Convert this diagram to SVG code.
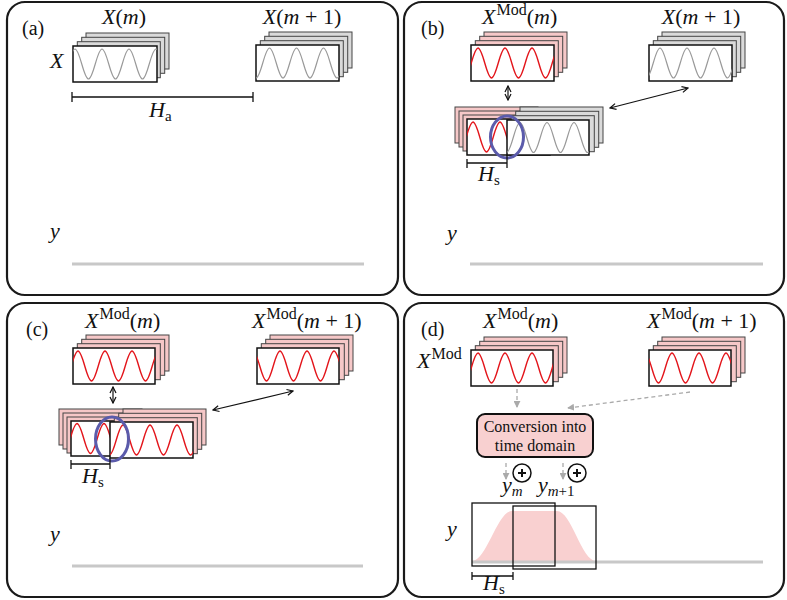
<svg xmlns="http://www.w3.org/2000/svg" xmlns:xlink="http://www.w3.org/1999/xlink" width="787" height="600" viewBox="0 0 787 600">
<style>
.panel{fill:none;stroke:#1a1a1a;stroke-width:2.2}
.front{fill:#fff;stroke:#111;stroke-width:1.5}
.bk{stroke:#444;stroke-width:1}
.bg{fill:#dadada}
.bp{fill:#f6c8c8}
.wg{fill:none;stroke:#999;stroke-width:1.2}
.wr{fill:none;stroke:#e3151b;stroke-width:1.4}
.t{font-family:"Liberation Serif","Times New Roman",serif;font-size:22px;fill:#111}
.it{font-style:italic}
.sup{font-size:16px}
.sub{font-size:15px}
.pl{font-family:"Liberation Serif","Times New Roman",serif;font-size:20px;fill:#111}
.ax{stroke:#c8c8c8;stroke-width:3;fill:none}
.dbl{stroke:#111;stroke-width:1.2;fill:none;marker-start:url(#ab);marker-end:url(#ab)}
.ell{fill:none;stroke:#5b5bab;stroke-width:3}
.hs{stroke:#111;stroke-width:1.3;fill:none}
.dash{stroke:#aaa;stroke-width:1.3;fill:none;stroke-dasharray:4 3;marker-end:url(#ag)}
.win{fill:none;stroke:#111;stroke-width:1.3}
</style>
<defs>
<marker id="ab" viewBox="0 0 8 8" refX="7" refY="4" markerWidth="8" markerHeight="8" markerUnits="userSpaceOnUse" orient="auto-start-reverse"><path d="M1,1 L7,4 L1,7" fill="none" stroke="#111" stroke-width="1.2"/></marker>
<marker id="ag" viewBox="0 0 8 8" refX="7" refY="4" markerWidth="7" markerHeight="7" markerUnits="userSpaceOnUse" orient="auto"><path d="M0,0 L8,4 L0,8 Z" fill="#aaa"/></marker>
<path id="wave" d="M-54,-15 C-49.09,-15 -45.41,15 -40.5,15 S-31.91,-15 -27,-15 S-18.41,15 -13.5,15 S-4.91,-15 0,-15 S8.59,15 13.5,15 S22.09,-15 27,-15 S35.59,15 40.5,15 S49.09,-15 54,-15 S62.59,15 67.5,15 S76.09,-15 81,-15 S89.59,15 94.5,15 S103.09,-15 108,-15 S116.59,15 121.5,15 S130.09,-15 135,-15"/>
<g id="backsG" class="bk bg"><rect x="13" y="-13" width="83" height="36"/><rect x="8.7" y="-8.7" width="83" height="36"/><rect x="4.3" y="-4.3" width="83" height="36"/></g>
<g id="backsP" class="bk bp"><rect x="13" y="-13" width="83" height="36"/><rect x="8.7" y="-8.7" width="83" height="36"/><rect x="4.3" y="-4.3" width="83" height="36"/></g>
<g id="backsPL" class="bk bp"><rect x="-12" y="-12" width="83" height="36"/><rect x="-8" y="-8" width="83" height="36"/><rect x="-4" y="-4" width="83" height="36"/></g>
</defs>

<g id="panels">
<rect id="panel-a" class="panel" x="7" y="2" width="391" height="293" rx="18"/>
<rect id="panel-b" class="panel" x="404" y="2" width="380" height="293" rx="18"/>
<rect id="panel-c" class="panel" x="7" y="303" width="391" height="294" rx="18"/>
<rect id="panel-d" class="panel" x="404" y="303" width="380" height="294" rx="18"/>
</g>

<!-- Panel (a) -->
<g id="a-labels">
<text class="pl" x="22" y="35">(a)</text>
<text class="t" x="124" y="24" text-anchor="middle"><tspan class="it">X</tspan>(<tspan class="it">m</tspan>)</text>
<text class="t" x="302" y="24" text-anchor="middle"><tspan class="it">X</tspan>(<tspan class="it">m</tspan> + 1)</text>
<text class="t it" x="50" y="68">X</text>
<text class="t" x="149" y="117"><tspan class="it">H</tspan><tspan class="sub" dy="4">a</tspan></text>
<text class="t it" x="50" y="238">y</text>
</g>
<g id="a-stack-m">
<use xlink:href="#backsG" x="73" y="46"/>
<rect class="front" x="73" y="46" width="84" height="36"/>
<svg x="73" y="46" width="84" height="36"><use xlink:href="#wave" class="wg" transform="translate(2,18)"/></svg>
</g>
<g id="a-stack-m1">
<use xlink:href="#backsG" x="256" y="45"/>
<rect class="front" x="256" y="45" width="83" height="36"/>
<svg x="256" y="45" width="83" height="36"><use xlink:href="#wave" class="wg" transform="translate(13.5,18)"/></svg>
</g>
<g id="a-ha" class="hs"><path d="M72,97 H253 M72,92 V102 M253,92 V102"/></g>
<path id="a-axis" class="ax" d="M72,264 H364"/>

<!-- Panel (b) -->
<g id="b-labels">
<text class="pl" x="421" y="35">(b)</text>
<text class="t" x="482" y="24"><tspan class="it">X</tspan><tspan class="sup" dy="-9" dx="1">Mod</tspan><tspan dy="9">(</tspan><tspan class="it">m</tspan>)</text>
<text class="t" x="701" y="24" text-anchor="middle"><tspan class="it">X</tspan>(<tspan class="it">m</tspan> + 1)</text>
<text class="t" x="478" y="181"><tspan class="it">H</tspan><tspan class="sub" dy="4">s</tspan></text>
<text class="t it" x="447" y="240">y</text>
</g>
<g id="b-stack-m">
<use xlink:href="#backsP" x="471" y="45"/>
<rect class="front" x="471" y="45" width="83" height="36"/>
<svg x="471" y="45" width="83" height="36"><use xlink:href="#wave" class="wr" transform="translate(7,18)"/></svg>
</g>
<g id="b-stack-m1">
<use xlink:href="#backsG" x="649" y="45"/>
<rect class="front" x="649" y="45" width="83" height="36"/>
<svg x="649" y="45" width="83" height="36"><use xlink:href="#wave" class="wg" transform="translate(11,18)"/></svg>
</g>
<g id="b-combined">
<use xlink:href="#backsPL" x="467" y="119"/>
<rect class="front" x="467" y="119" width="83" height="36"/>
<svg x="467" y="119" width="83" height="36"><use xlink:href="#wave" class="wr" transform="translate(6,18)"/></svg>
<use xlink:href="#backsG" x="507" y="120"/>
<rect class="front" x="507" y="120" width="82" height="35"/>
<svg x="507" y="120" width="82" height="35"><use xlink:href="#wave" class="wg" transform="translate(13,17.5)"/></svg>
<ellipse class="ell" cx="507" cy="137" rx="16.5" ry="21"/>
</g>
<g id="b-hs" class="hs"><path d="M467,163 H507 M467,159 V168 M507,155 V168"/></g>
<g id="b-connectors">
<path class="dbl" d="M508,86 V100"/>
<path class="dbl" d="M610,108 L688,88"/>
</g>
<path id="b-axis" class="ax" d="M470,264 H763"/>

<!-- Panel (c) -->
<g id="c-labels">
<text class="pl" x="26" y="336">(c)</text>
<text class="t" x="85" y="328"><tspan class="it">X</tspan><tspan class="sup" dy="-9" dx="1">Mod</tspan><tspan dy="9">(</tspan><tspan class="it">m</tspan>)</text>
<text class="t" x="252" y="328"><tspan class="it">X</tspan><tspan class="sup" dy="-9" dx="1">Mod</tspan><tspan dy="9">(</tspan><tspan class="it">m</tspan> + 1)</text>
<text class="t" x="82" y="483"><tspan class="it">H</tspan><tspan class="sub" dy="4">s</tspan></text>
<text class="t it" x="50" y="541">y</text>
</g>
<g id="c-stack-m">
<use xlink:href="#backsP" x="73" y="348"/>
<rect class="front" x="73" y="348" width="82" height="36"/>
<svg x="73" y="348" width="82" height="36"><use xlink:href="#wave" class="wr" transform="translate(5,18)"/></svg>
</g>
<g id="c-stack-m1">
<use xlink:href="#backsP" x="257" y="348"/>
<rect class="front" x="257" y="348" width="82" height="36"/>
<svg x="257" y="348" width="82" height="36"><use xlink:href="#wave" class="wr" transform="translate(23,18)"/></svg>
</g>
<g id="c-combined">
<use xlink:href="#backsPL" x="71" y="421"/>
<rect class="front" x="71" y="421" width="82" height="35"/>
<svg x="71" y="421" width="82" height="35"><use xlink:href="#wave" class="wr" transform="translate(6,17.5)"/></svg>
<use xlink:href="#backsP" x="110" y="422"/>
<rect class="front" x="110" y="422" width="83" height="36"/>
<svg x="110" y="422" width="83" height="36"><use xlink:href="#wave" class="wr" transform="translate(13,18)"/></svg>
<ellipse class="ell" cx="112" cy="439" rx="16.5" ry="22"/>
</g>
<g id="c-hs" class="hs"><path d="M71,464 H110 M71,460 V469 M110,458 V469"/></g>
<g id="c-connectors">
<path class="dbl" d="M113,387 V403"/>
<path class="dbl" d="M213,410 L293,391"/>
</g>
<path id="c-axis" class="ax" d="M72,566 H363"/>

<!-- Panel (d) -->
<g id="d-labels">
<text class="pl" x="421" y="336">(d)</text>
<text class="t" x="483" y="328"><tspan class="it">X</tspan><tspan class="sup" dy="-9" dx="1">Mod</tspan><tspan dy="9">(</tspan><tspan class="it">m</tspan>)</text>
<text class="t" x="647" y="328"><tspan class="it">X</tspan><tspan class="sup" dy="-9" dx="1">Mod</tspan><tspan dy="9">(</tspan><tspan class="it">m</tspan> + 1)</text>
<text class="t" x="417" y="368"><tspan class="it">X</tspan><tspan class="sup" dy="-9" dx="1">Mod</tspan></text>
<text class="t" x="502" y="492"><tspan class="it">y</tspan><tspan class="sub it" dy="4">m</tspan></text>
<text class="t" x="538" y="492"><tspan class="it">y</tspan><tspan class="sub" dy="4"><tspan class="it">m</tspan>+1</tspan></text>
<text class="t it" x="447" y="536">y</text>
<text class="t" x="483" y="590"><tspan class="it">H</tspan><tspan class="sub" dy="4">s</tspan></text>
</g>
<g id="d-stack-m">
<use xlink:href="#backsP" x="471" y="350"/>
<rect class="front" x="471" y="350" width="82" height="36"/>
<svg x="471" y="350" width="82" height="36"><use xlink:href="#wave" class="wr" transform="translate(7,18)"/></svg>
</g>
<g id="d-stack-m1">
<use xlink:href="#backsP" x="649" y="350"/>
<rect class="front" x="649" y="350" width="82" height="36"/>
<svg x="649" y="350" width="82" height="36"><use xlink:href="#wave" class="wr" transform="translate(23,18)"/></svg>
</g>
<g id="d-conversion">
<rect x="477" y="414" width="116" height="43" rx="8" fill="#f8d0d0" stroke="#111" stroke-width="2"/>
<text x="535" y="432" text-anchor="middle" font-family="Liberation Serif, Times New Roman, serif" font-size="16" fill="#111">Conversion into</text>
<text x="535" y="451" text-anchor="middle" font-family="Liberation Serif, Times New Roman, serif" font-size="16" fill="#111">time domain</text>
</g>
<g id="d-plus1"><circle cx="522" cy="473" r="9" fill="#fff" stroke="#111" stroke-width="1.5"/><path d="M518,473 H526 M522,469 V477" stroke="#111" stroke-width="2"/></g>
<g id="d-plus2"><circle cx="577" cy="473" r="9" fill="#fff" stroke="#111" stroke-width="1.5"/><path d="M573,473 H581 M577,469 V477" stroke="#111" stroke-width="2"/></g>
<g id="d-connectors">
<path class="dash" d="M517,389 V407"/>
<path class="dash" d="M690,392 L568,408"/>
<path class="dash" d="M506,463 V479"/>
<path class="dash" d="M563,463 V479"/>
</g>
<g id="d-signal">
<path d="M472,561 C486.6,561 497.4,511 512,511 L557,511 C571.2,511 581.8,561 596,561 Z" fill="#f9d0d0"/>
<path class="ax" d="M472,562 H763"/>
<rect class="win" x="472" y="503" width="83" height="63"/>
<rect class="win" x="513" y="506" width="83" height="63"/>
</g>
<g id="d-hs" class="hs"><path d="M472,576 H513 M472,572 V580 M513,572 V580"/></g>
</svg>
